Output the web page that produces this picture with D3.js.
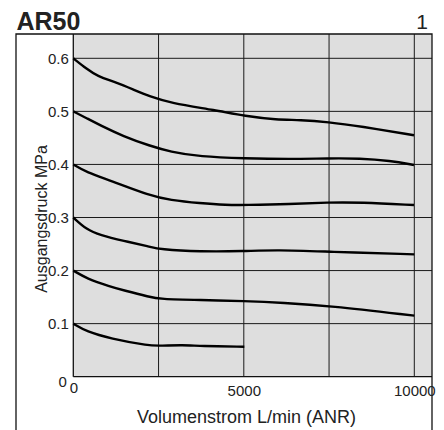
<!DOCTYPE html>
<html>
<head>
<meta charset="utf-8">
<script src="https://cdn.jsdelivr.net/npm/d3@7/dist/d3.min.js"></script>
<style>
  html, body { margin: 0; padding: 0; background: #fff; }
  svg { display: block; font-family: "Liberation Sans", Arial, sans-serif; }
</style>
</head>
<body>
<svg id="chart" width="444" height="430"></svg>
<script>
// ---- data ----
const title = "AR50";
const pageNo = "1";
const xLabel = "Volumenstrom L/min (ANR)";
const yLabel = "Ausgangsdruck MPa";
const xTicks = [0, 5000, 10000];
const xGrid = [2500, 5000, 7500, 10000];
const yTicks = [0, 0.1, 0.2, 0.3, 0.4, 0.5, 0.6];

const flow06 = [0, 393, 686, 1273, 1760, 2249, 2836, 4185, 5035, 5974, 6648, 7469, 8408, 9991];
const p06    = [0.600, 0.580, 0.567, 0.554, 0.541, 0.528, 0.516, 0.502, 0.491, 0.484, 0.484, 0.480, 0.472, 0.455];

const flow05 = [0, 393, 783, 1466, 2249, 2836, 3715, 5015, 6355, 7478, 8408, 9287, 9991];
const p05    = [0.500, 0.487, 0.474, 0.453, 0.435, 0.424, 0.4145, 0.4115, 0.410, 0.4115, 0.4115, 0.407, 0.399];

const flow04 = [0, 393, 1076, 2249, 2836, 3715, 4499, 5015, 6355, 7478, 8408, 9991];
const p04    = [0.400, 0.385, 0.370, 0.341, 0.333, 0.327, 0.3235, 0.3235, 0.325, 0.3286, 0.3286, 0.3235];

const flow03 = [0, 393, 783, 1466, 2249, 2522, 3715, 5015, 5965, 7478, 10000];
const p03    = [0.300, 0.277, 0.267, 0.256, 0.245, 0.240, 0.2355, 0.2365, 0.239, 0.2355, 0.2306];

const flow02 = [0, 393, 1076, 1466, 2249, 2522, 3715, 5015, 6158, 7478, 10000];
const p02    = [0.200, 0.185, 0.170, 0.163, 0.150, 0.1464, 0.1445, 0.1426, 0.1394, 0.1338, 0.115];

const flow01 = [0, 393, 1076, 2249, 2522, 3226, 3715, 5015];
const p01    = [0.100, 0.085, 0.072, 0.058, 0.0584, 0.0597, 0.0578, 0.0565];

const series = [
  [flow06, p06], [flow05, p05], [flow04, p04],
  [flow03, p03], [flow02, p02], [flow01, p01]
];

// ---- layout ----
const svg = d3.select("#chart");
const frame = { left: 16, top: 34, right: 432, bottom: 430 };
const plot = { left: 73.3, top: 34, right: 432, bottom: 376.7 };

const x = d3.scaleLinear().domain([0, 10519]).range([plot.left, plot.right]);
const y = d3.scaleLinear().domain([0, 0.6458]).range([plot.bottom, plot.top]);

// plot background
svg.append("rect")
  .attr("x", plot.left).attr("y", plot.top)
  .attr("width", plot.right - plot.left).attr("height", plot.bottom - plot.top)
  .attr("fill", "#dedede");

// grid
const g = svg.append("g").attr("stroke", "#1a1a1a").attr("stroke-width", 1);
g.selectAll("line.h").data(yTicks.filter(d => d > 0)).join("line")
  .attr("x1", plot.left).attr("x2", plot.right)
  .attr("y1", d => y(d)).attr("y2", d => y(d));
g.selectAll("line.v").data(xGrid).join("line")
  .attr("y1", plot.top).attr("y2", plot.bottom)
  .attr("x1", d => x(d)).attr("x2", d => x(d));

// plot axes lines
svg.append("line").attr("x1", plot.left).attr("x2", plot.left)
  .attr("y1", plot.top).attr("y2", plot.bottom).attr("stroke", "#111").attr("stroke-width", 1.3);
svg.append("line").attr("x1", plot.left).attr("x2", plot.right)
  .attr("y1", plot.bottom).attr("y2", plot.bottom).attr("stroke", "#111").attr("stroke-width", 1.3);

// outer frame
svg.append("path")
  .attr("d", `M${frame.left},${frame.bottom}V${frame.top}H${frame.right}V${frame.bottom}`)
  .attr("fill", "none").attr("stroke", "#111").attr("stroke-width", 1.3);

// curves
const line = d3.line().x(d => x(d[0])).y(d => y(d[1])).curve(d3.curveBasis);
svg.append("g").selectAll("path").data(series).join("path")
  .attr("d", s => line(s[0].map((f, i) => [f, s[1][i]])))
  .attr("fill", "none").attr("stroke", "#000").attr("stroke-width", 2.4)
  .attr("stroke-linejoin", "round").attr("stroke-linecap", "butt");

// axes (labels only)
const fmtY = d => d === 0 ? "0" : d3.format(".1f")(d);
const yAxis = svg.append("g").attr("transform", `translate(${plot.left},0)`)
  .call(d3.axisLeft(y).tickValues(yTicks).tickFormat(fmtY).tickSize(0).tickPadding(4.5));
const xAxis = svg.append("g").attr("transform", `translate(0,${plot.bottom})`)
  .call(d3.axisBottom(x).tickValues(xTicks).tickFormat(d3.format("d")).tickSize(0).tickPadding(9));
[yAxis, xAxis].forEach(a => {
  a.select(".domain").remove();
  a.selectAll("text").attr("font-size", 15).attr("fill", "#222")
    .attr("font-family", '"Liberation Sans", Arial, sans-serif');
});
yAxis.selectAll(".tick").filter(d => d === 0).select("text").attr("dy", "0.62em").attr("x", -6.5);
xAxis.selectAll(".tick").filter(d => d === 0).select("text").attr("y", 5.5);

// axis titles
svg.append("text").attr("x", 246.5).attr("y", 423.3).attr("text-anchor", "middle")
  .attr("font-size", 18).attr("fill", "#222").text(xLabel);
svg.append("text").attr("transform", `translate(46.5,219) rotate(-90)`).attr("text-anchor", "middle")
  .attr("font-size", 16).attr("fill", "#222").text(yLabel);

// title
svg.append("text").attr("x", 16.5).attr("y", 29.5).attr("font-size", 25).attr("font-weight", "bold")
  .attr("fill", "#222").text(title);
svg.append("text").attr("x", 428).attr("y", 28.5).attr("text-anchor", "end").attr("font-size", 21)
  .attr("fill", "#222").text(pageNo);
</script>
</body>
</html>
